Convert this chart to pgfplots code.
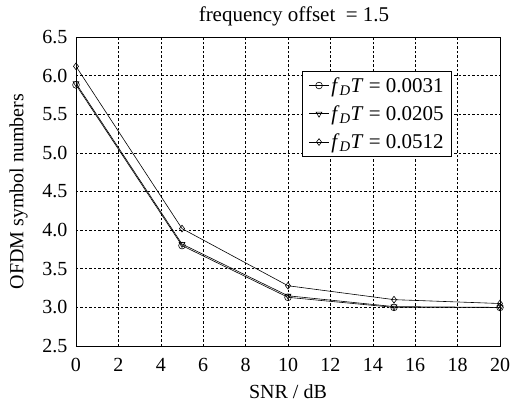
\documentclass[border=0pt]{standalone}
\usepackage{pgfplots}
\pgfplotsset{compat=1.18}
\usepackage{fontspec}
\setmainfont{Liberation Serif}
\newcommand{\fdt}{\textit{f}\textsubscript{\textit{D}}\textit{T}}
\begin{document}
\begin{tikzpicture}[font=\fontsize{20bp}{23bp}\selectfont]
\begin{axis}[
  name=ax,
  scale only axis,
  width=424bp, height=309bp,
  xmin=0, xmax=20, ymin=2.5, ymax=6.5,
  xtick={0,2,...,20},
  ytick={2.5,3.0,...,6.5},
  /pgf/number format/assume math mode=true,
  ticklabel style={font=\fontsize{20bp}{23bp}\selectfont},
  xticklabel style={yshift=-9bp},
  yticklabel style={xshift=-5bp, /pgf/number format/.cd, fixed, fixed zerofill, precision=1},
  label style={font=\fontsize{20bp}{23bp}\selectfont},
  xlabel style={yshift=-6bp},
  ylabel style={yshift=8bp},
  grid=major,
  major grid style={black, dash pattern=on 2.5bp off 2bp, line width=0.6pt},
  tick style={draw=none},
  axis line style={line width=1pt},
  xlabel={SNR / dB},
  ylabel={OFDM symbol numbers},
  title={frequency offset~ = 1.5},
  title style={font=\fontsize{21bp}{24bp}\selectfont, yshift=1bp, xshift=6bp},
  legend style={at={(0.887,0.890)}, anchor=north east, draw=black, line width=0.8pt, font=\fontsize{21bp}{24bp}\selectfont, row sep=8bp, inner xsep=6bp, inner ysep=4bp},
  legend image code/.code={\draw[mark repeat=2,mark phase=2] plot coordinates {(-2bp,0bp) (8bp,0bp) (18bp,0bp)};},
  legend cell align=left,
  every axis plot/.append style={black, line width=0.6pt, mark size=3.4pt, mark options={solid, fill=white}},
]
\addplot[mark=o] coordinates {(0,5.88) (5,3.80) (10,3.13) (15,3.00) (20,3.00)};
\addlegendentry{\fdt{} = 0.0031}
\addplot[mark=triangle, mark options={rotate=180}] coordinates {(0,5.90) (5,3.82) (10,3.15) (15,3.01) (20,3.00)};
\addlegendentry{\fdt{} = 0.0205}
\addplot[mark=diamond] coordinates {(0,6.12) (5,4.02) (10,3.28) (15,3.10) (20,3.05)};
\addlegendentry{\fdt{} = 0.0512}
\end{axis}
\pgfresetboundingbox
\path ([xshift=-76bp,yshift=-56bp]ax.south west) rectangle ([xshift=12bp,yshift=37bp]ax.north east);
\end{tikzpicture}
\end{document}
